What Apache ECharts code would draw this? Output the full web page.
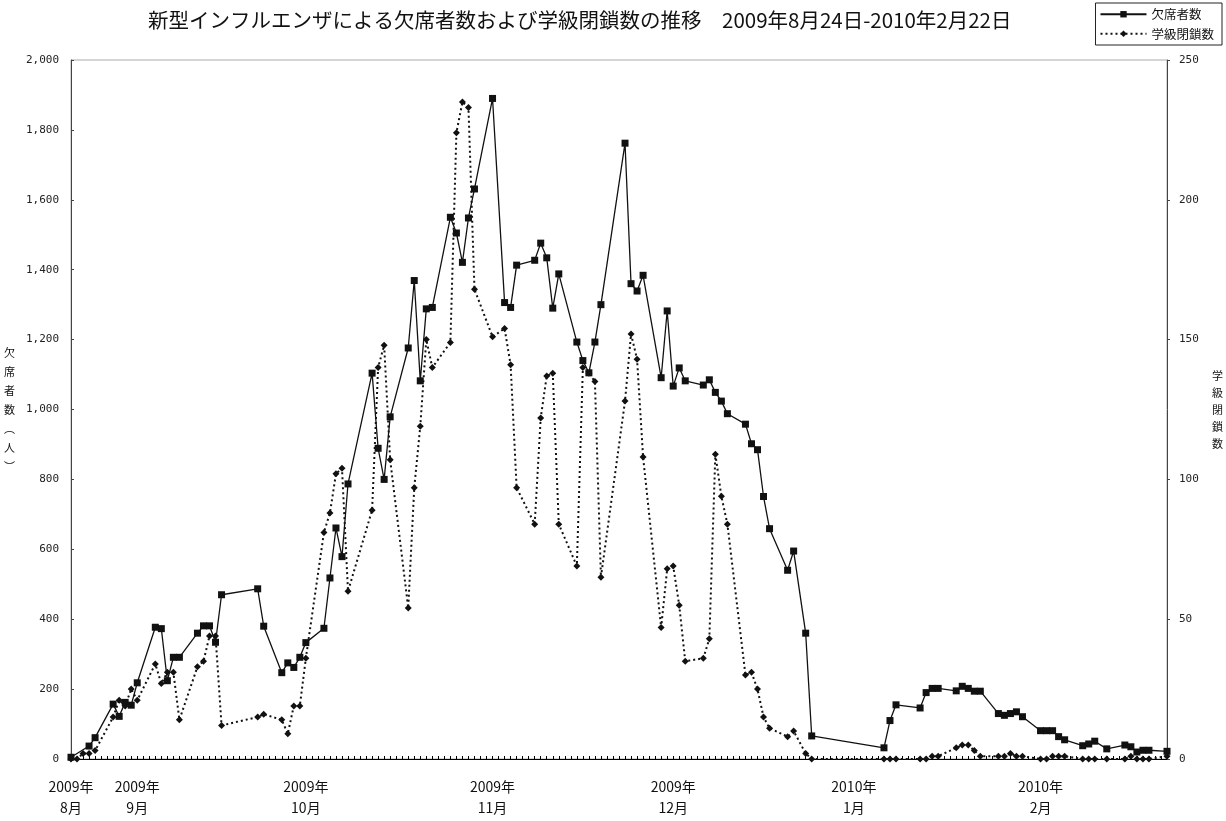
<!DOCTYPE html>
<html><head><meta charset="utf-8">
<script src="https://cdn.jsdelivr.net/npm/echarts@6/dist/echarts.min.js"></script>
<style>html,body{margin:0;padding:0;background:#fff}#c{width:1226px;height:821px}</style>
</head><body><div id="c"></div>
<script>
const startDate = '2009-08-24';
const endDate = '2010-02-22';
const pointDates = [
 '2009-08-24','2009-08-25','2009-08-26','2009-08-27','2009-08-28','2009-08-31',
 '2009-09-01','2009-09-02','2009-09-03','2009-09-04','2009-09-07','2009-09-08','2009-09-09','2009-09-10','2009-09-11',
 '2009-09-14','2009-09-15','2009-09-16','2009-09-17','2009-09-18','2009-09-24','2009-09-25','2009-09-28','2009-09-29','2009-09-30',
 '2009-10-01','2009-10-02','2009-10-05','2009-10-06','2009-10-07','2009-10-08','2009-10-09','2009-10-13','2009-10-14','2009-10-15','2009-10-16',
 '2009-10-19','2009-10-20','2009-10-21','2009-10-22','2009-10-23','2009-10-26','2009-10-27','2009-10-28','2009-10-29','2009-10-30',
 '2009-11-02','2009-11-04','2009-11-05','2009-11-06','2009-11-09','2009-11-10','2009-11-11','2009-11-12','2009-11-13',
 '2009-11-16','2009-11-17','2009-11-18','2009-11-19','2009-11-20','2009-11-24','2009-11-25','2009-11-26','2009-11-27','2009-11-30',
 '2009-12-01','2009-12-02','2009-12-03','2009-12-04','2009-12-07','2009-12-08','2009-12-09','2009-12-10','2009-12-11',
 '2009-12-14','2009-12-15','2009-12-16','2009-12-17','2009-12-18','2009-12-21','2009-12-22','2009-12-24','2009-12-25',
 '2010-01-06','2010-01-07','2010-01-08','2010-01-12','2010-01-13','2010-01-14','2010-01-15','2010-01-18','2010-01-19','2010-01-20','2010-01-21','2010-01-22',
 '2010-01-25','2010-01-26','2010-01-27','2010-01-28','2010-01-29','2010-02-01','2010-02-02','2010-02-03','2010-02-04','2010-02-05',
 '2010-02-08','2010-02-09','2010-02-10','2010-02-12','2010-02-15','2010-02-16','2010-02-17','2010-02-18','2010-02-19','2010-02-22'
];
const absentees = [
 5,null,null,37,61,157,
 122,162,154,218,377,373,224,291,291,
 360,381,381,334,470,487,380,247,275,262,
 291,333,374,518,661,579,787,1104,889,800,979,
 1176,1369,1082,1288,1292,1550,1505,1421,1548,1631,
 1890,1306,1292,1413,1427,1476,1434,1290,1388,
 1193,1140,1105,1193,1300,1762,1360,1339,1384,1091,
 1282,1067,1119,1082,1070,1085,1049,1024,988,
 958,902,885,751,659,540,595,360,66,
 32,110,155,146,190,202,202,195,208,202,194,194,
 130,125,130,135,121,81,81,81,64,55,
 38,43,51,29,40,35,20,25,25,22
];
const closures = [
 0,0,2,2,3,15,
 21,19,25,21,34,27,31,31,14,
 33,35,44,44,12,15,16,14,9,19,
 19,36,81,88,102,104,60,89,140,148,107,
 54,97,119,150,140,149,224,235,233,168,
 151,154,141,97,84,122,137,138,84,
 69,140,138,135,65,128,152,143,108,47,
 68,69,55,35,36,43,109,94,84,
 30,31,25,15,11,8,10,2,0,
 0,0,0,0,0,1,1,4,5,5,3,1,
 1,1,2,1,1,0,0,1,1,1,
 0,0,0,0,0,1,0,0,0,1
];
const monthLabelDates = ['2009-08-24','2009-09-04','2009-10-02','2009-11-02','2009-12-02','2010-01-01','2010-02-01'];
const monthLabels = ['2009年\n8月','2009年\n9月','2009年\n10月','2009年\n11月','2009年\n12月','2010年\n1月','2010年\n2月'];
const leftTicks = {min: 0, max: 2000, interval: 200};
const rightTicks = {min: 0, max: 250, interval: 50};

function iso(d){ return d.toISOString().slice(0,10); }
const allDates = [];
for (let d = new Date(startDate + 'T00:00:00Z'); iso(d) <= endDate; d.setUTCDate(d.getUTCDate()+1)) allDates.push(iso(d));
const idx = {}; allDates.forEach((d,i)=>idx[d]=i);
const absSeries = allDates.map(()=>null), cloSeries = allDates.map(()=>null);
pointDates.forEach((d,i)=>{ absSeries[idx[d]] = absentees[i]; cloSeries[idx[d]] = closures[i]; });

const FONT = '"Noto Sans CJK JP", sans-serif';
const MONO = '"DejaVu Sans Mono", monospace';
const chart = echarts.init(document.getElementById('c'), null, {renderer:'canvas'});
chart.setOption({
  backgroundColor: '#fff',
  animation: false,
  textStyle: {fontFamily: FONT, color: '#000'},
  title: {
    text: '新型インフルエンザによる欠席者数および学級閉鎖数の推移　2009年8月24日-2010年2月22日',
    left: 143, top: 5,
    textStyle: {fontFamily: FONT, fontSize: 20.5, fontWeight: 'normal', color: '#111'}
  },
  legend: {
    orient: 'vertical', right: 4, top: 3,
    borderColor: '#222', borderWidth: 1, padding: [5, 8, 5, 4], itemGap: 7,
    itemWidth: 46, itemHeight: 8,
    textStyle: {fontFamily: FONT, fontSize: 12.5, color: '#111'},
    data: ['欠席者数', '学級閉鎖数']
  },
  grid: {left: 71, right: 59, top: 60, bottom: 62, show: true, borderColor: '#aaa', borderWidth: 1},
  xAxis: {
    type: 'category', data: allDates, boundaryGap: false,
    axisLine: {lineStyle: {color: '#000', width: 1}},
    axisTick: {show: true, interval: 0, inside: true, length: 3, lineStyle: {color: '#000'}},
    axisLabel: {
      interval: (i, v) => monthLabelDates.indexOf(v) >= 0,
      formatter: v => monthLabels[monthLabelDates.indexOf(v)] || '',
      fontFamily: FONT, fontSize: 14, lineHeight: 21, color: '#111', margin: 17
    },
    splitLine: {show: false}
  },
  yAxis: [{
    type: 'value', min: leftTicks.min, max: leftTicks.max, interval: leftTicks.interval,
    name: '欠\n席\n者\n数\n︵\n人\n︶', nameLocation: 'middle', nameRotate: 0, nameGap: 56,
    nameTextStyle: {fontFamily: FONT, fontSize: 11, lineHeight: 19, color: '#111'},
    axisLine: {show: true, lineStyle: {color: '#444'}},
    axisTick: {show: true, inside: true, length: 3, lineStyle: {color: '#444'}},
    axisLabel: {fontFamily: MONO, fontSize: 11, color: '#222', margin: 12,
      formatter: v => v.toLocaleString('en-US')},
    splitLine: {show: false}
  }, {
    type: 'value', min: rightTicks.min, max: rightTicks.max, interval: rightTicks.interval,
    name: '学\n級\n閉\n鎖\n数', nameLocation: 'middle', nameRotate: 0, nameGap: 45,
    nameTextStyle: {fontFamily: FONT, fontSize: 11, lineHeight: 17, color: '#111'},
    axisLine: {show: true, lineStyle: {color: '#444'}},
    axisTick: {show: true, inside: false, length: 3, lineStyle: {color: '#444'}},
    axisLabel: {fontFamily: MONO, fontSize: 11, color: '#222', margin: 12},
    splitLine: {show: false}
  }],
  series: [{
    name: '欠席者数', type: 'line', yAxisIndex: 0, data: absSeries, connectNulls: true,
    showAllSymbol: true, symbol: 'rect', symbolSize: 7,
    itemStyle: {color: '#111'}, lineStyle: {color: '#111', width: 1.3},
    z: 3
  }, {
    name: '学級閉鎖数', type: 'line', yAxisIndex: 1, data: cloSeries, connectNulls: true,
    showAllSymbol: true, symbol: 'diamond', symbolSize: 7,
    itemStyle: {color: '#111'}, lineStyle: {color: '#111', width: 2, type: [2, 3]},
    z: 2
  }]
});
</script></body></html>
